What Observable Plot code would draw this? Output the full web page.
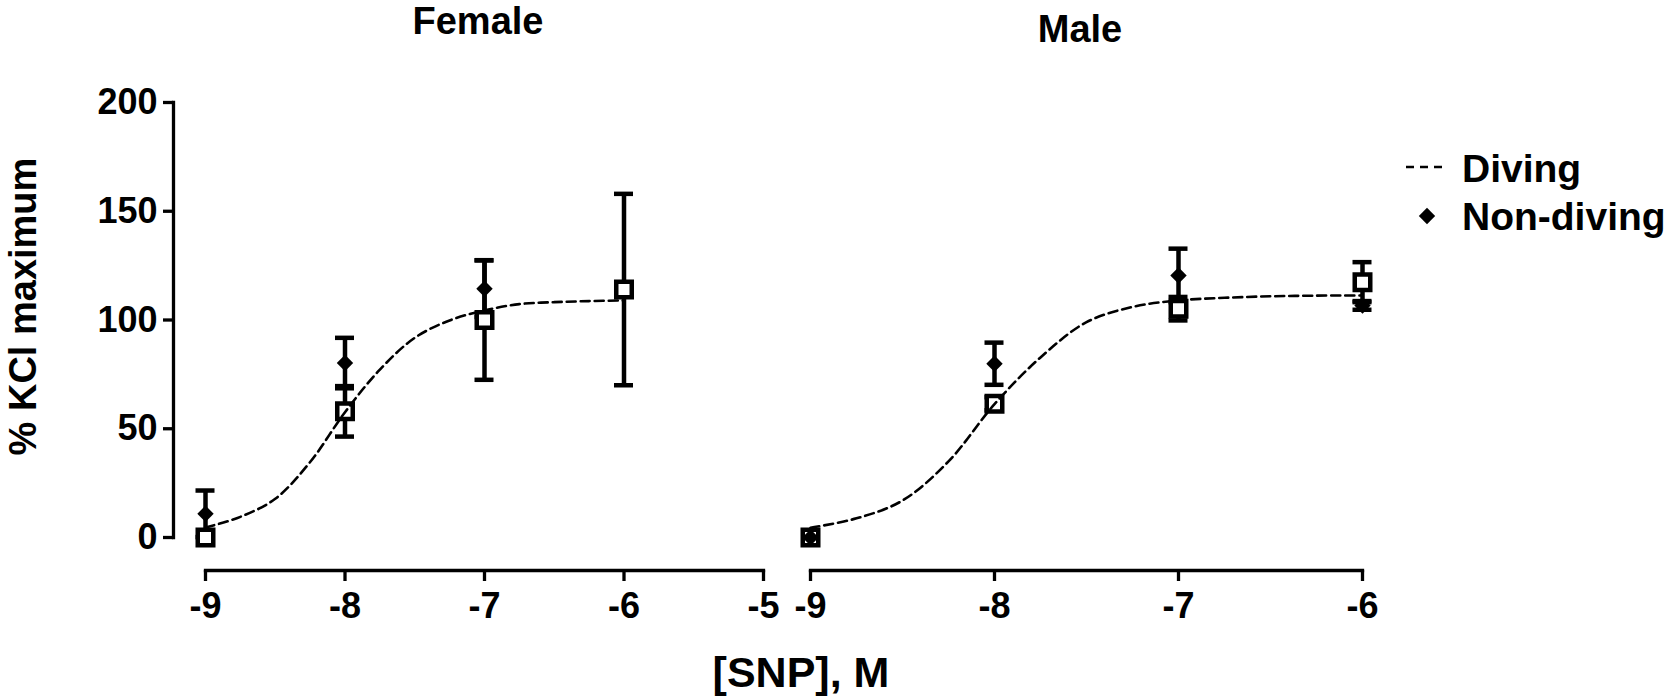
<!DOCTYPE html>
<html>
<head>
<meta charset="utf-8">
<script src="https://cdn.jsdelivr.net/npm/d3@7"></script>
<script src="https://cdn.jsdelivr.net/npm/@observablehq/plot@0.6"></script>
<style>
  body { margin: 0; background: #fff; }
  #wrap { position: relative; width: 1673px; height: 697px; overflow: hidden;
          font-family: "Liberation Sans", Arial, sans-serif; font-weight: bold; }
  #wrap > svg { position: absolute; top: 0; }
</style>
</head>
<body>
<div id="wrap"></div>
<script>
// ---------- data ----------
const doses = [-9, -8, -7, -6];

const femaleDivingMean = [0, 58, 100, 114];
const femaleDivingSEM  = [0, 11.6, 27.5, 44];
const femaleNonDivingDoses = [-9, -8, -7];
const femaleNonDivingMean  = [10.9, 80.2, 114.4];
const femaleNonDivingSEM   = [10.7, 11.6, 13];

const maleDivingMean = [0, 61.5, 105.2, 117.4];
const maleDivingSEM  = [0, 3, 5.4, 9.2];
const maleNonDivingMean = [0, 79.9, 120.5, 106.7];
const maleNonDivingSEM  = [0, 9.7, 12.3, 2];

// fitted (Diving) curves
const fitDoses  = [-9, -8.75, -8.5, -8.25, -8, -7.75, -7.5, -7.25, -7, -6.75, -6.5, -6.25, -6];
const femaleFit = [4.6, 9.5, 17.8, 34.7, 57.6, 77.2, 91.8, 99.8, 104.4, 107.3, 108.2, 108.7, 109];
const maleFit   = [4.5, 8.8, 17, 35, 61.3, 82.8, 99, 106, 109, 110.2, 110.9, 111.2, 111.3];

const femaleXTicks = [-9, -8, -7, -6, -5];
const maleXTicks   = [-9, -8, -7, -6];
const yTicks       = [0, 50, 100, 150, 200];

const panelTitles = ["Female", "Male"];
const yTitle = "% KCl maximum";
const xTitle = "[SNP], M";
const legendLabels = ["Diving", "Non-diving"];

// ---------- helpers ----------
const rows = (xs, means, sems) => xs.map((x, i) => ({dose: x, mean: means[i], sem: sems[i]}));
const fitRows = (ys) => fitDoses.map((x, i) => ({dose: x, y: ys[i]}));

const FONT = '"Liberation Sans", Arial, sans-serif';

function panel({diving, nonDiving, fit, xDomain, xTicks, width, marginLeft, marginRight, insetLeft, yAxis}) {
  const bars = [...diving, ...nonDiving].filter(d => d.sem > 0);
  const marks = [];
  if (yAxis) {
    marks.push(Plot.frame({anchor: "left", insetBottom: 33, stroke: "black", strokeWidth: 3.3}));
    marks.push(Plot.axisY(yTicks, {tickSize: 10, tickPadding: 6, fontSize: 36, fontWeight: "bold",
                                   strokeWidth: 3.3, tickFormat: d => String(d), label: null}));
    marks.push(Plot.text([yTitle], {text: d => d, frameAnchor: "left", rotate: -90, dx: -150, dy: -30,
                                     fontSize: 38, fontWeight: "bold", textAnchor: "middle", lineAnchor: "middle"}));
  }
  marks.push(Plot.frame({anchor: "bottom", insetLeft: insetLeft, stroke: "black", strokeWidth: 3.3}));
  marks.push(Plot.axisX(xTicks, {tickSize: 11, tickPadding: 11, fontSize: 36, fontWeight: "bold",
                                 strokeWidth: 3.3, tickFormat: d => String(d), label: null}));
  // error bars
  marks.push(Plot.ruleX(bars, {x: "dose", y1: d => d.mean - d.sem, y2: d => d.mean + d.sem,
                               stroke: "black", strokeWidth: 4.5}));
  marks.push(Plot.ruleY(bars, {y: d => d.mean + d.sem, x1: "dose", x2: "dose",
                               insetLeft: -9.5, insetRight: -9.5, stroke: "black", strokeWidth: 4.5}));
  marks.push(Plot.ruleY(bars, {y: d => d.mean - d.sem, x1: "dose", x2: "dose",
                               insetLeft: -9.5, insetRight: -9.5, stroke: "black", strokeWidth: 4.5}));
  // Diving: open squares
  marks.push(Plot.dot(diving, {x: "dose", y: "mean", symbol: "square", r: 8.75,
                               fill: "white", stroke: "black", strokeWidth: 4.5}));
  // Non-diving: filled diamonds
  marks.push(Plot.dot(nonDiving, {x: "dose", y: "mean", symbol: "diamond2", r: 7.4,
                                  fill: "black", stroke: "none"}));
  // fitted curve
  marks.push(Plot.line(fit, {x: "dose", y: "y", curve: "catmull-rom", stroke: "black",
                             strokeWidth: 2.6, strokeDasharray: "9,5"}));
  return Plot.plot({
    width, height: 697,
    marginTop: 102, marginBottom: 127, marginLeft, marginRight,
    insetLeft, insetBottom: 33,
    x: {domain: xDomain, axis: null},
    y: {domain: [0, 200], axis: null},
    style: {fontFamily: FONT, fontWeight: "bold", fontSize: "36px", color: "black",
            background: "transparent", overflow: "visible"},
    marks
  });
}

const wrap = document.getElementById("wrap");

const left = panel({
  diving: rows(doses, femaleDivingMean, femaleDivingSEM),
  nonDiving: rows(femaleNonDivingDoses, femaleNonDivingMean, femaleNonDivingSEM),
  fit: fitRows(femaleFit),
  xDomain: [-9, -5], xTicks: femaleXTicks,
  width: 790, marginLeft: 173, marginRight: 27, insetLeft: 32, yAxis: true
});
left.style.left = "0px";
wrap.appendChild(left);

const right = panel({
  diving: rows(doses, maleDivingMean, maleDivingSEM),
  nonDiving: rows(doses, maleNonDivingMean, maleNonDivingSEM),
  fit: fitRows(maleFit),
  xDomain: [-9, -6], xTicks: maleXTicks,
  width: 883, marginLeft: 20, marginRight: 311, insetLeft: 0, yAxis: false
});
right.style.left = "790px";
wrap.appendChild(right);

// ---------- titles and legend overlay ----------
const ns = "http://www.w3.org/2000/svg";
const ov = document.createElementNS(ns, "svg");
ov.setAttribute("width", 1673); ov.setAttribute("height", 697);
ov.style.left = "0px";
ov.setAttribute("font-family", FONT);
ov.setAttribute("font-weight", "bold");
function txt(s, x, y, size, anchor) {
  const t = document.createElementNS(ns, "text");
  t.setAttribute("x", x); t.setAttribute("y", y);
  t.setAttribute("font-size", size);
  t.setAttribute("text-anchor", anchor);
  t.textContent = s;
  ov.appendChild(t);
}
txt(panelTitles[0], 478, 34, 38, "middle");
txt(panelTitles[1], 1080, 42, 38, "middle");
txt(xTitle, 801, 687, 43, "middle");
// legend
const ln = document.createElementNS(ns, "line");
ln.setAttribute("x1", 1406); ln.setAttribute("x2", 1444);
ln.setAttribute("y1", 167); ln.setAttribute("y2", 167);
ln.setAttribute("stroke", "black"); ln.setAttribute("stroke-width", 2.6);
ln.setAttribute("stroke-dasharray", "8,6");
ov.appendChild(ln);
const dm = document.createElementNS(ns, "path");
dm.setAttribute("d", d3.symbol(d3.symbolDiamond2, 170)());
dm.setAttribute("transform", "translate(1427,216)");
dm.setAttribute("fill", "black");
ov.appendChild(dm);
txt(legendLabels[0], 1462, 182, 39, "start");
txt(legendLabels[1], 1462, 230, 39, "start");
wrap.appendChild(ov);
</script>
</body>
</html>
